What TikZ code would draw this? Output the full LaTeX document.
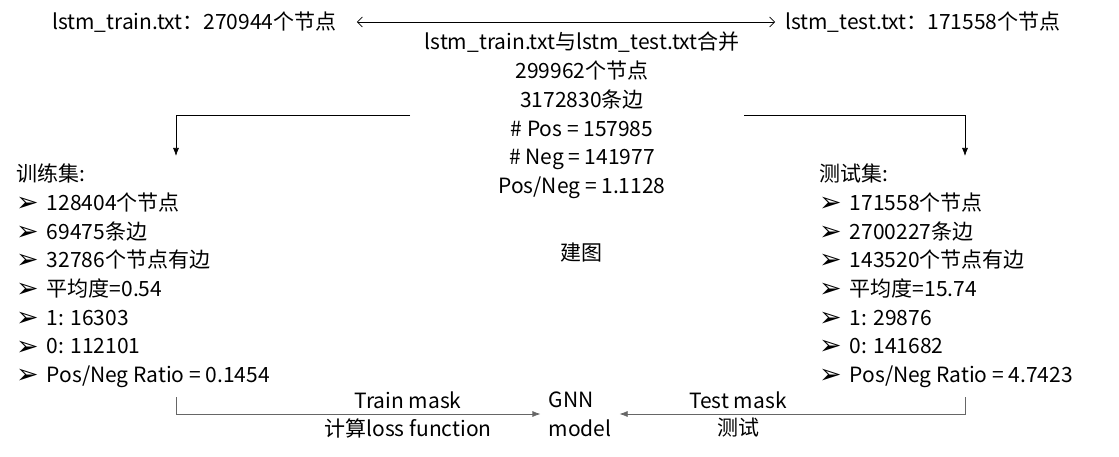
\documentclass[tikz,border=0pt]{standalone}
\usepackage{fontspec}
\setmainfont{Noto Sans CJK SC}
\newfontfamily\symfont{DejaVu Sans}
\usetikzlibrary{arrows.meta}

\newcommand{\bul}{\raisebox{-1pt}[0pt][0pt]{\symfont\fontsize{27}{27}\selectfont ➢}\hspace{8pt}}

\begin{document}
\begin{tikzpicture}[x=1pt,y=-1pt,
        font=\fontsize{21}{28.7}\selectfont,
        every node/.style={inner sep=2pt},
        lst/.style={anchor=west,align=left},
        blk/.style={line width=0.7pt,-{Latex[length=8pt,width=6pt]}},
        gry/.style={blk,draw=black!60},
        dbl/.style={line width=0.7pt,{Straight Barb[length=5pt,width=10pt]}-{Straight Barb[length=5pt,width=10pt]}}]

    \useasboundingbox (0,0) rectangle (1119,457);

    % input files
    \node[anchor=west] (train) at (50,22) {lstm\_train.txt：270944个节点};
    \node[anchor=west] (test) at (783,22) {lstm\_test.txt：171558个节点};
    \draw[dbl,shorten <=18pt,shorten >=8pt] (train) -- (test);

    \node[align=center] (merge) at (582,115.5) {lstm\_train.txt与lstm\_test.txt合并\\299962个节点\\3172830条边\\\# Pos = 157985\\\# Neg = 141977\\Pos/Neg = 1.1128};
    \node (build) at (581,253) {建图};

    % split
    \coordinate (lsplit) at (410,115);
    \coordinate (rsplit) at (744,115);
    \coordinate (ltip) at (176,156);
    \coordinate (rtip) at (965,156);
    \draw[blk] (lsplit) -| (ltip);
    \draw[blk] (rsplit) -| (rtip);

    \node[lst] (trainset) at (14,276) {训练集:\\\bul 128404个节点\\\bul 69475条边\\\bul 32786个节点有边\\\bul 平均度=0.54\\\bul 1: 16303\\\bul 0: 112101\\\bul Pos/Neg Ratio = 0.1454};
    \node[lst] (testset) at (817,276) {测试集:\\\bul 171558个节点\\\bul 2700227条边\\\bul 143520个节点有边\\\bul 平均度=15.74\\\bul 1: 29876\\\bul 0: 141682\\\bul Pos/Neg Ratio = 4.7423};

    % model
    \node[align=left] (gnn) at (580,414) {GNN\\model};
    \coordinate (lfoot) at (176,397);
    \coordinate (rfoot) at (965,397);
    \draw[gry] (lfoot) |- ([xshift=-6pt]gnn.west);
    \draw[gry] (rfoot) |- ([xshift=6pt]gnn.east);
    \node (trmask) at (408,400) {Train mask};
    \node (loss) at (408,428) {计算loss function};
    \node (temask) at (738,400) {Test mask};
    \node (infer) at (738,428) {测试};
\end{tikzpicture}
\end{document}
